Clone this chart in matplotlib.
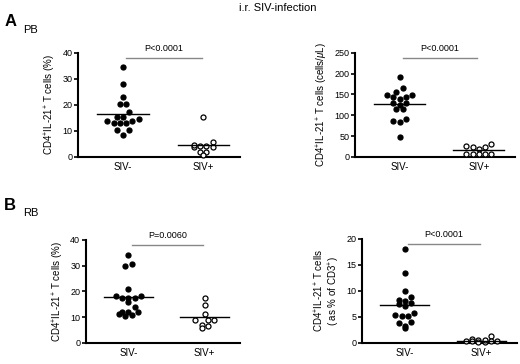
import numpy as np
import matplotlib
matplotlib.use("Agg")
from matplotlib import pyplot as plt
from matplotlib import transforms

plt.rcParams["font.family"] = ["Liberation Sans", "DejaVu Sans"]
plt.rcParams["mathtext.fontset"] = "custom"
plt.rcParams["mathtext.rm"] = "Liberation Sans"
plt.rcParams["mathtext.it"] = "Liberation Sans:italic"
plt.rcParams["mathtext.bf"] = "Liberation Sans:bold"

groups = ["SIV-", "SIV+"]

# PB, percent
pb_pct_neg = [34.4, 27.9, 22.9, 20.5, 20.5, 17.3, 15.4, 14.7, 15.4, 13.1, 13.1,
              13.8, 13.1, 13.8, 10.3, 10.3, 8.5]
pb_pct_pos = [15.4, 5.8, 4.2, 3.8, 3.8, 4.2, 4.7, 1.9, 1.9, 0.6]
pb_pct_med = [16.5, 4.6]

# PB, cells/uL
pb_abs_neg = [190.7, 164.3, 156.3, 149.8, 144.2, 144.2, 149.8, 138.6, 128.2,
              124.2, 128.2, 113.8, 113.8, 86.5, 92.1, 84.1, 48.1]
pb_abs_pos = [30.4, 24.0, 24.0, 27.2, 20.0, 7.0, 7.0, 7.0, 7.0, 7.0]
pb_abs_med = [125.8, 16.0]

# RB, percent
rb_pct_neg = [34.1, 29.9, 30.7, 20.9, 18.3, 17.4, 17.4, 17.4, 18.3, 16.0, 13.9,
              12.0, 11.2, 10.3, 11.0, 11.9, 12.0]
rb_pct_pos = [17.3, 14.8, 11.1, 9.0, 9.0, 9.0, 7.1, 6.7, 5.7]
rb_pct_med = [17.8, 10.1]

# RB, as % of CD3+
rb_cd3_neg = [18.1, 13.4, 9.9, 8.8, 8.3, 7.6, 8.1, 7.0, 7.5, 5.7, 5.1, 5.1, 5.4,
              3.8, 4.0, 3.3, 2.8]
rb_cd3_pos = [1.3, 0.8, 0.6, 0.3, 0.3, 0.2, 0.3, 0.3, 0.6, 0.2]
rb_cd3_med = [7.2, 0.35]

pvalues = ["P<0.0001", "P<0.0001", "P=0.0060", "P<0.0001"]
ylabels = [r"CD4$^{+}$IL-21$^{+}$ T cells (%)",
           r"CD4$^{+}$IL-21$^{+}$ T cells (cells/$\mu$L)",
           r"CD4$^{+}$IL-21$^{+}$ T cells (%)",
           "CD4$^{+}$IL-21$^{+}$ T cells\n( as % of CD3$^{+}$)"]
yticks = [[0, 10, 20, 30, 40], [0, 50, 100, 150, 200, 250],
          [0, 10, 20, 30, 40], [0, 5, 10, 15, 20]]

W, H = 520, 364
fig = plt.figure(figsize=(W / 100, H / 100), dpi=100)


def swarm(ax, values, d_px):
    # row-based beeswarm: points closer than d_px vertically share a row
    fig.canvas.draw()
    bb = ax.get_window_extent()
    y0, y1 = ax.get_ylim()
    x0, x1 = ax.get_xlim()
    ypx = np.array([(v - y0) / (y1 - y0) * bb.height for v in values])
    order = list(np.argsort(ypx)[::-1])
    res = [0.0] * len(values)
    rows = []
    for i in order:
        if rows and ypx[rows[-1][0]] - ypx[i] < 0.8 * d_px:
            rows[-1].append(i)
        else:
            rows.append([i])
    for row in rows:
        n = len(row)
        row = sorted(row, key=lambda j: ypx[j])
        # alternate placement so the row looks balanced
        slots = sorted(range(n), key=lambda j: abs(j - (n - 1) / 2))
        for j, idx in enumerate(row):
            res[idx] = (slots[j] - (n - 1) / 2) * d_px * (x1 - x0) / bb.width
    return res


def panel(rect, neg, pos, med, ylabel, ticks, ptext):
    ax = fig.add_axes(rect)
    ax.set_xlim(-0.56, 1.46)
    ax.set_ylim(0, ticks[-1])
    for s in ["top", "right"]:
        ax.spines[s].set_visible(False)
    for s in ["left", "bottom"]:
        ax.spines[s].set_linewidth(1.5)
    ax.set_yticks(ticks)
    ax.tick_params(axis="y", length=3, width=1.2, labelsize=6.5, pad=1)
    ax.set_xticks([0, 1])
    ax.set_xticklabels(groups, fontsize=7)
    ax.tick_params(axis="x", length=0, pad=4)
    ax.set_ylabel(ylabel, fontsize=7, labelpad=3, linespacing=1.1)

    for i, vals in enumerate([neg, pos]):
        offs = swarm(ax, vals, 6.3)
        ax.scatter(np.array(offs) + i, vals, s=13,
                   facecolor="black" if i == 0 else "white",
                   edgecolor="black", linewidth=0.9, clip_on=False, zorder=3)
        ax.plot([i - 0.32, i + 0.32], [med[i], med[i]], color="black",
                lw=1.0, zorder=4, clip_on=False)

    tr = transforms.blended_transform_factory(ax.transData, ax.transAxes)
    ax.plot([0.04, 0.98], [0.95, 0.95], color="#888888", lw=1.0,
            transform=tr, clip_on=False)
    ax.text(0.51, 1.0, ptext, transform=tr, ha="center", va="bottom",
            fontsize=6.5)
    return ax


panel([0.150, 0.569, 0.312, 0.286], pb_pct_neg, pb_pct_pos, pb_pct_med,
      ylabels[0], yticks[0], pvalues[0])
panel([0.683, 0.569, 0.308, 0.286], pb_abs_neg, pb_abs_pos, pb_abs_med,
      ylabels[1], yticks[1], pvalues[1])
panel([0.165, 0.058, 0.296, 0.283], rb_pct_neg, rb_pct_pos, rb_pct_med,
      ylabels[2], yticks[2], pvalues[2])
panel([0.696, 0.058, 0.298, 0.286], rb_cd3_neg, rb_cd3_pos, rb_cd3_med,
      ylabels[3], yticks[3], pvalues[3])

fig.text(0.535, 0.977, "i.r. SIV-infection", ha="center", va="center",
         fontsize=8)
fig.text(0.008, 0.94, "A", fontsize=12, fontweight="bold", va="center")
fig.text(0.045, 0.918, "PB", fontsize=8, va="center")
fig.text(0.008, 0.436, "B", fontsize=12, fontweight="bold", va="center")
fig.text(0.045, 0.414, "RB", fontsize=8, va="center")

fig.savefig("out.png", dpi=100)
